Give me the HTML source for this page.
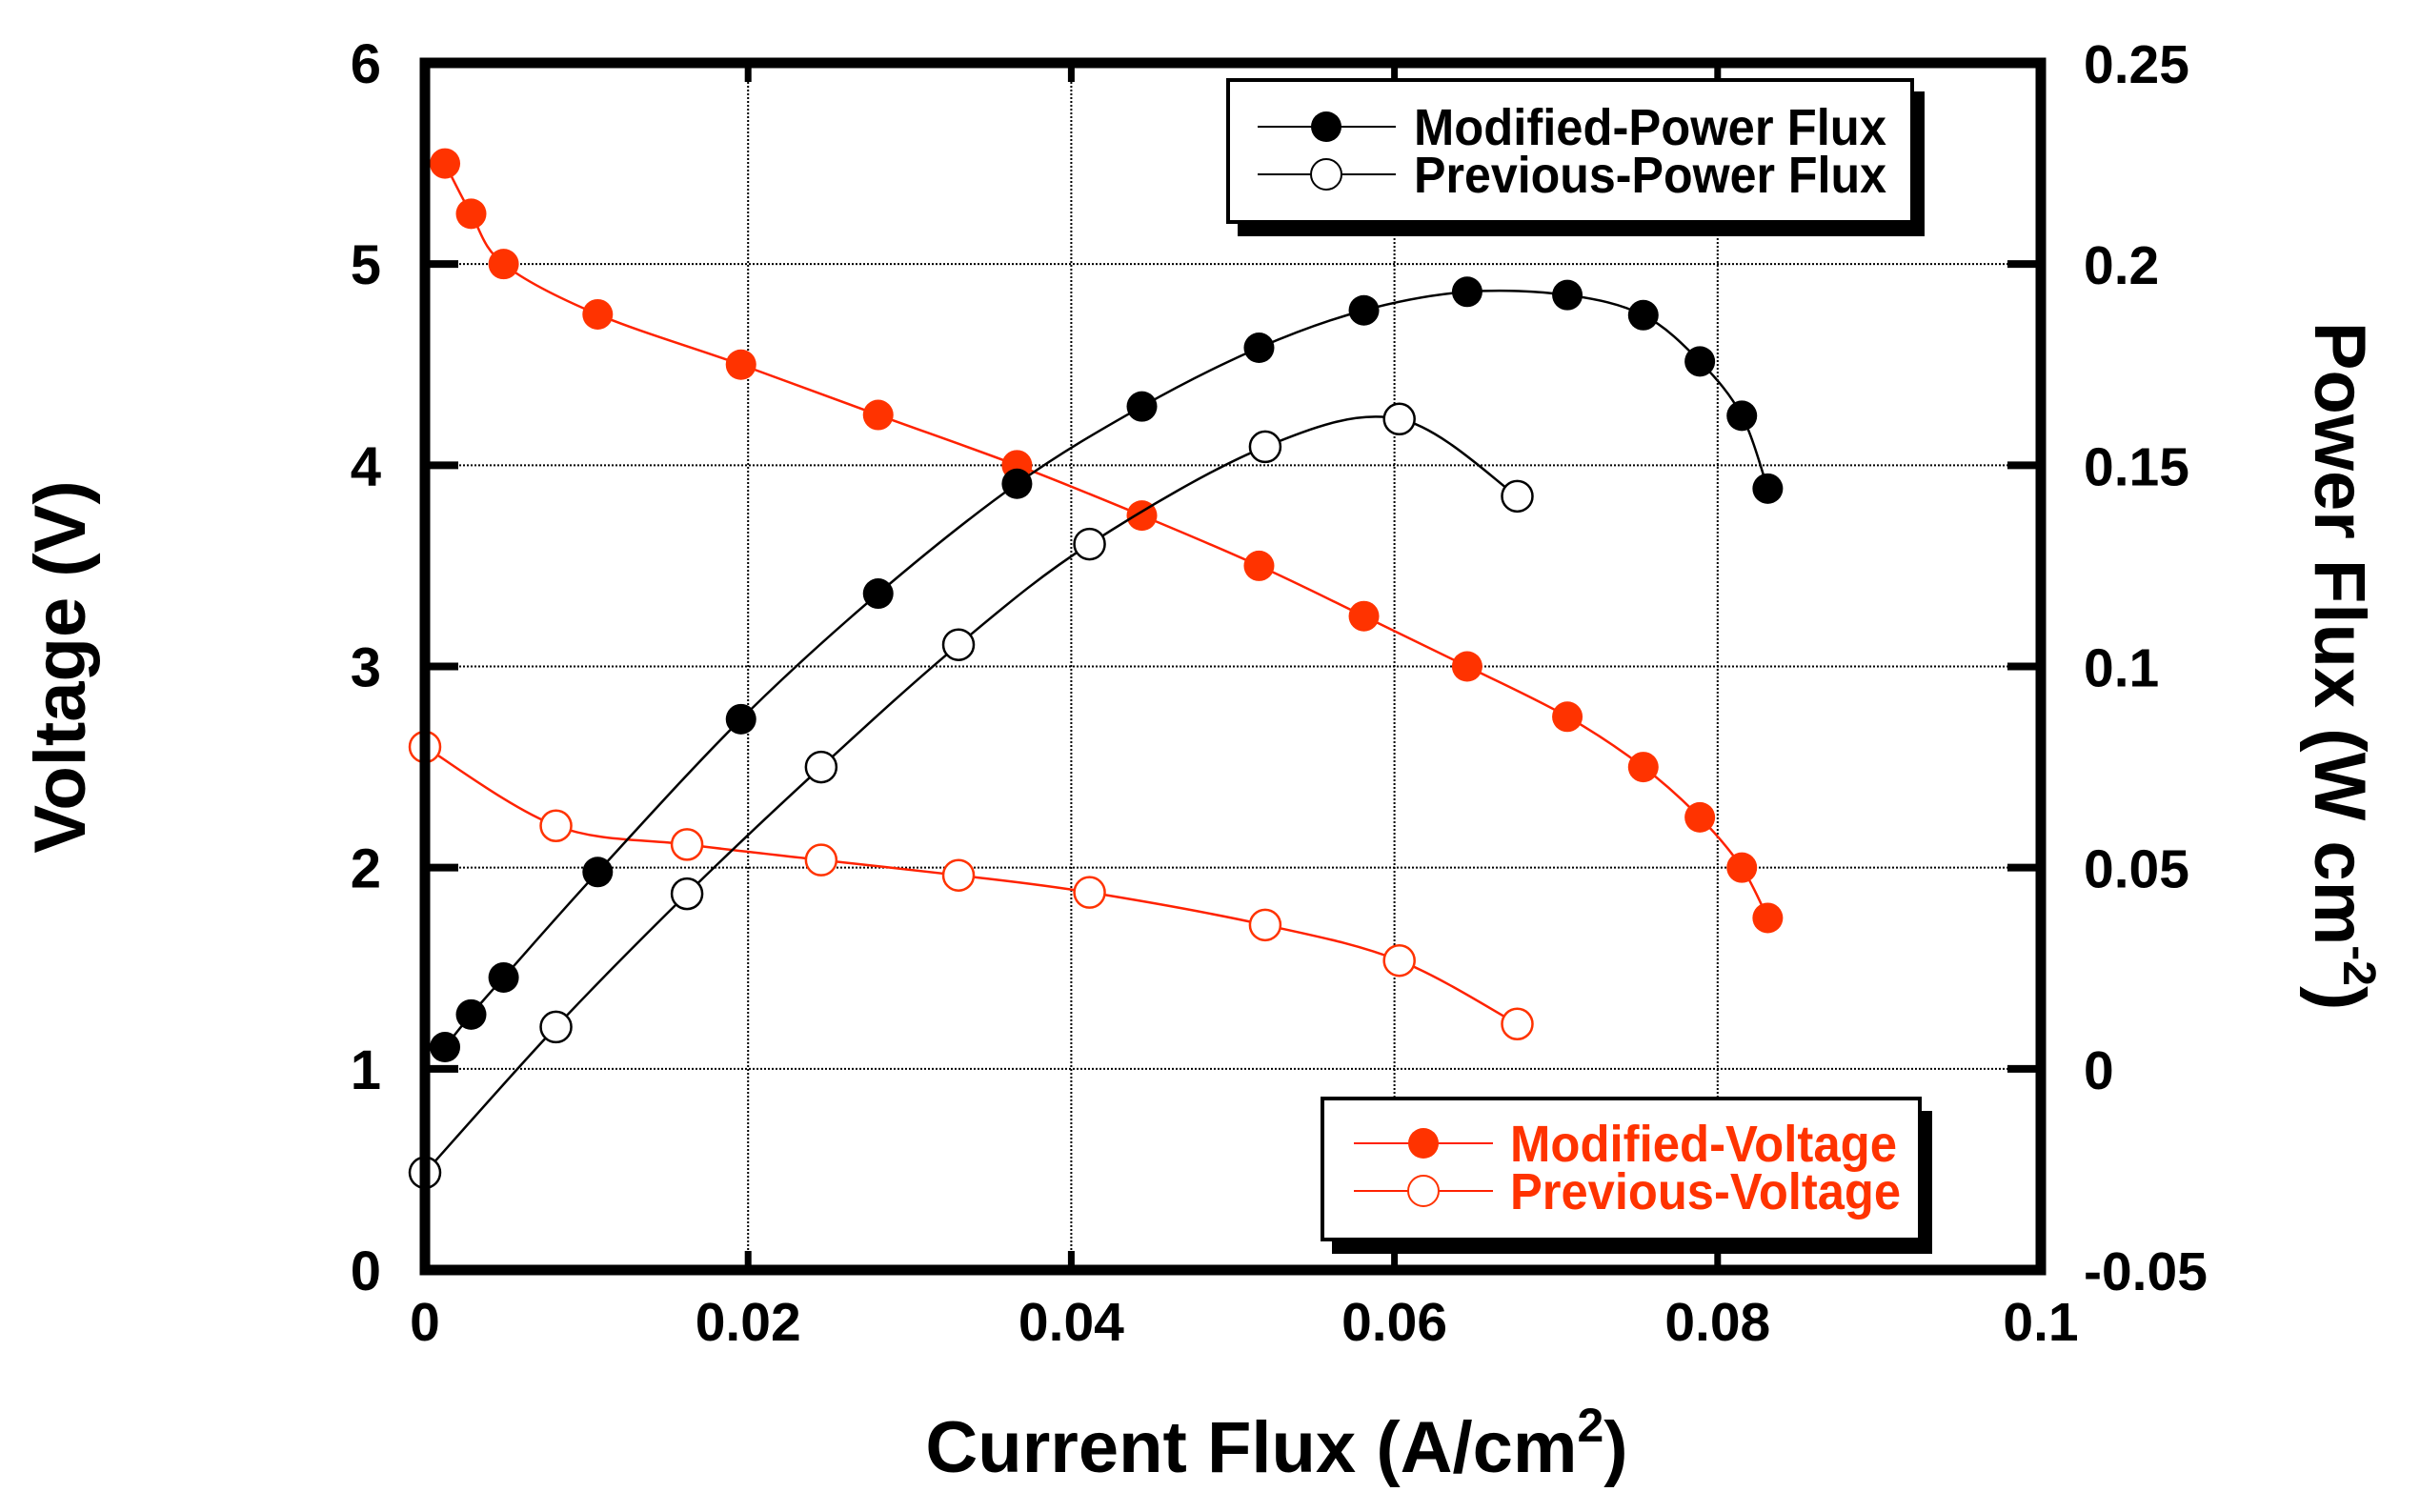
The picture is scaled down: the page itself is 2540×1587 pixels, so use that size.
<!DOCTYPE html>
<html><head><meta charset="utf-8"><style>
html,body{margin:0;padding:0;background:#fff}
svg{display:block}
text{font-family:"Liberation Sans",Arial,sans-serif;font-weight:bold}
</style></head><body>
<svg id="chart" width="2540" height="1587" viewBox="0 0 2540 1587" xmlns="http://www.w3.org/2000/svg">
<g id="grid"></g>
<g id="series"></g>
<g id="axes"></g>
<text transform="translate(89,700) rotate(-90)" text-anchor="middle" font-size="76">Voltage (V)</text>
<text transform="translate(2430,699) rotate(90)" text-anchor="middle" font-size="76">Power Flux (W cm<tspan dy="-30" font-size="48">-2</tspan><tspan dy="30">)</tspan></text>
<text x="1340" y="1545" text-anchor="middle" font-size="76">Current Flux (A/cm<tspan dy="-32" font-size="50">2</tspan><tspan dy="32">)</tspan></text>
<g>
<rect x="1299" y="96" width="721" height="152" fill="#000"/>
<rect x="1289" y="84" width="718" height="149" fill="#fff" stroke="#000" stroke-width="4"/>
<line x1="1320" y1="133" x2="1465" y2="133" stroke="#000" stroke-width="2"/>
<ellipse cx="1392" cy="133" rx="16" ry="16" fill="#000"/>
<text x="1484" y="152" font-size="54" textLength="496" lengthAdjust="spacingAndGlyphs">Modified-Power Flux</text>
<line x1="1320" y1="183" x2="1465" y2="183" stroke="#000" stroke-width="2"/>
<ellipse cx="1392" cy="183" rx="16" ry="16" fill="#fff" stroke="#000" stroke-width="2"/>
<text x="1484" y="202" font-size="54" textLength="496" lengthAdjust="spacingAndGlyphs">Previous-Power Flux</text>
</g>
<g>
<rect x="1398" y="1166" width="630" height="150" fill="#000"/>
<rect x="1388" y="1153" width="627" height="148" fill="#fff" stroke="#000" stroke-width="4"/>
<line x1="1421" y1="1200" x2="1567" y2="1200" stroke="#ff2200" stroke-width="2"/>
<ellipse cx="1494" cy="1200" rx="16" ry="16" fill="#ff3300"/>
<text x="1585" y="1219" font-size="54" fill="#ff3300" textLength="406" lengthAdjust="spacingAndGlyphs">Modified-Voltage</text>
<line x1="1421" y1="1250" x2="1567" y2="1250" stroke="#ff2200" stroke-width="2"/>
<ellipse cx="1494" cy="1250" rx="16" ry="16" fill="#fff" stroke="#ff3300" stroke-width="2"/>
<text x="1585" y="1269" font-size="54" fill="#ff3300" textLength="410" lengthAdjust="spacingAndGlyphs">Previous-Voltage</text>
</g>
</svg>
<script>
const xTicks=[0,0.02,0.04,0.06,0.08,0.1];
const xTickLabels=["0","0.02","0.04","0.06","0.08","0.1"];
const yTicks=[0,1,2,3,4,5,6];
const yTickLabels=["0","1","2","3","4","5","6"];
const y2Ticks=[-0.05,0,0.05,0.1,0.15,0.2,0.25];
const y2TickLabels=["-0.05","0","0.05","0.1","0.15","0.2","0.25"];
const modCurrent=[0.00124,0.00286,0.00487,0.01069,0.01956,0.02805,0.03664,0.04437,0.05162,0.05811,0.0645,0.0707,0.0754,0.0789,0.0815,0.0831];
const modVoltage=[5.5,5.25,5.0,4.75,4.5,4.25,4.0,3.75,3.5,3.25,3.0,2.75,2.5,2.25,2.0,1.75];
const modPower=[0.0054,0.0135,0.0227,0.0489,0.0869,0.1181,0.1454,0.1646,0.1792,0.1885,0.1931,0.1923,0.1873,0.1758,0.1623,0.1442];
const prevCurrent=[0,0.00811,0.01622,0.02452,0.03302,0.04113,0.052,0.0603,0.0676];
const prevVoltage=[2.6,2.208,2.115,2.038,1.962,1.877,1.715,1.538,1.223];
const prevPower=[-0.0258,0.0104,0.0435,0.075,0.1054,0.1304,0.1546,0.1615,0.1423];

const L=446,R=2142,T=66,B=1333;
const sx=v=>L+(v-0)/(0.1-0)*(R-L);
const sy=v=>B-(v-0)/(6-0)*(B-T);
const sy2=v=>B-(v+0.05)/(0.3)*(B-T);
const NS="http://www.w3.org/2000/svg";
function mk(tag,attrs,parent){const e=document.createElementNS(NS,tag);for(const k in attrs)e.setAttribute(k,attrs[k]);parent.appendChild(e);return e;}
const grid=document.getElementById('grid'),axes=document.getElementById('axes'),series=document.getElementById('series');
xTicks.forEach((t,i)=>{
  const x=sx(t);
  if(i>0&&i<xTicks.length-1){
    const g=mk('line',{x1:x,y1:T,x2:x,y2:B,stroke:'#000','stroke-width':2,'stroke-dasharray':'2 2'},grid);
    
    
    mk('line',{x1:x,y1:B,x2:x,y2:B-20,stroke:'#000','stroke-width':7},axes);
    mk('line',{x1:x,y1:T,x2:x,y2:T+20,stroke:'#000','stroke-width':7},axes);
  }
  const tx=mk('text',{x:x,y:1407,'text-anchor':'middle','font-size':57},axes);
  tx.textContent=xTickLabels[i];
  
  
});
yTicks.forEach((t,i)=>{
  const y=sy(t);
  if(i>0&&i<yTicks.length-1){
    const g=mk('line',{x1:L,y1:y,x2:R,y2:y,stroke:'#000','stroke-width':2,'stroke-dasharray':'2 2'},grid);
    
    
    mk('line',{x1:L,y1:y,x2:L+35,y2:y,stroke:'#000','stroke-width':8},axes);
    mk('line',{x1:R,y1:y,x2:R-35,y2:y,stroke:'#000','stroke-width':8},axes);
  }
  const tx=mk('text',{x:400,y:y+21,'text-anchor':'end','font-size':58},axes);
  tx.textContent=yTickLabels[i];
  
  
});
y2Ticks.forEach((t,i)=>{
  const tx=mk('text',{x:2187,y:sy2(t)+21,'text-anchor':'start','font-size':57},axes);
  tx.textContent=y2TickLabels[i];
  
  
});
const frame=mk('rect',{x:L,y:T,width:R-L,height:B-T,fill:'none',stroke:'#000','stroke-width':11},axes);



function smooth(pts){
  let d='M'+pts[0][0]+','+pts[0][1];
  for(let i=0;i<pts.length-1;i++){
    const p0=pts[Math.max(0,i-1)],p1=pts[i],p2=pts[i+1],p3=pts[Math.min(pts.length-1,i+2)];
    const c1=[p1[0]+(p2[0]-p0[0])/6,p1[1]+(p2[1]-p0[1])/6];
    const c2=[p2[0]-(p3[0]-p1[0])/6,p2[1]-(p3[1]-p1[1])/6];
    d+=' C'+c1[0]+','+c1[1]+' '+c2[0]+','+c2[1]+' '+p2[0]+','+p2[1];
  }
  return d;
}
function drawSeries(xs,ys,scaleY,lineColor,fill,stroke,name){
  const pts=xs.map((x,i)=>[sx(x),scaleY(ys[i])]);
  const p=mk('path',{d:smooth(pts),fill:'none',stroke:lineColor,'stroke-width':2.5},series);
  
  
  pts.forEach(pt=>{
    const c=mk('ellipse',{cx:pt[0],cy:pt[1],rx:16,ry:16,fill:fill,stroke:stroke,'stroke-width':2.5},series);
    
    
  });
}
drawSeries(prevCurrent,prevVoltage,sy,'#ff2200','#fff','#ff3300','previous-voltage');
drawSeries(modCurrent,modVoltage,sy,'#ff2200','#ff3300','none','modified-voltage');
drawSeries(prevCurrent,prevPower,sy2,'#000','#fff','#000','previous-power');
drawSeries(modCurrent,modPower,sy2,'#000','#000','none','modified-power');
</script>
</body></html>
